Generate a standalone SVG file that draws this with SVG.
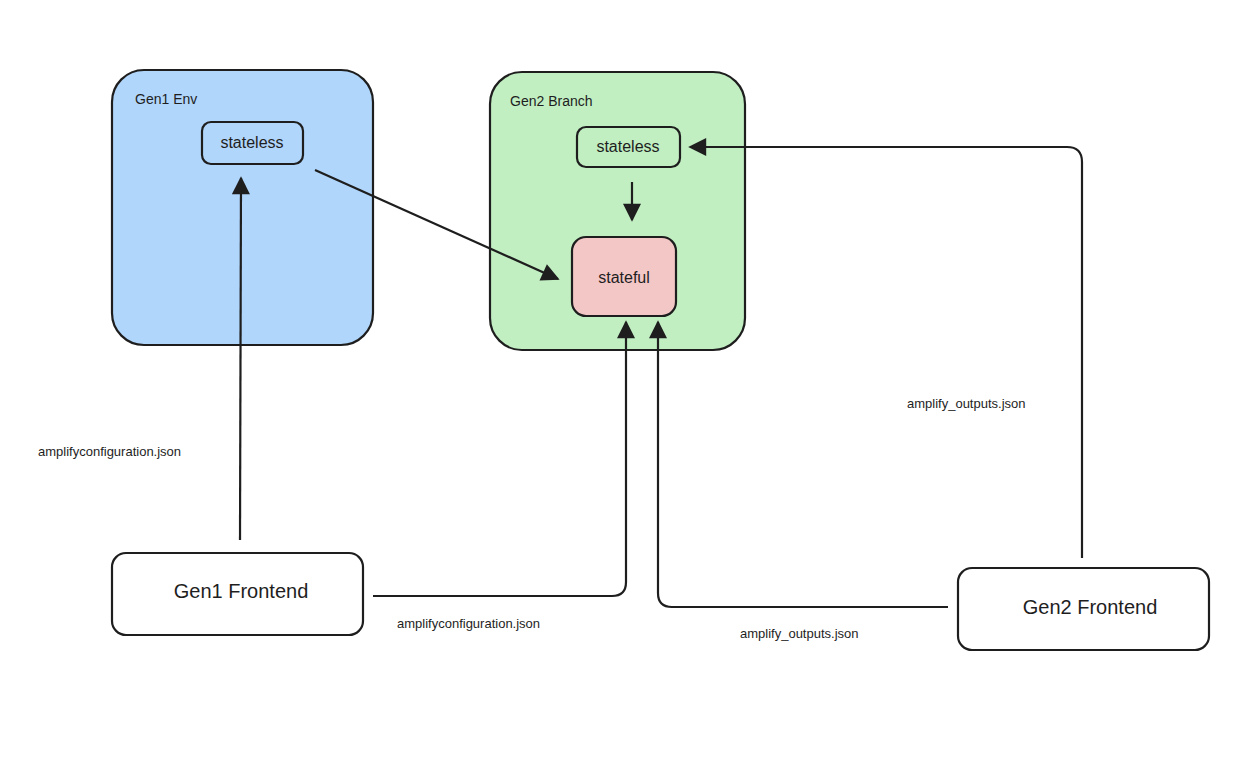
<svg xmlns="http://www.w3.org/2000/svg" width="1260" height="768" viewBox="0 0 1260 768">
<defs>
<style>
.box{stroke:#1e1e1e;stroke-width:2.2}
.t{font-family:"Liberation Sans",Arial,sans-serif;fill:#1e1e1e}
.c{fill:none;stroke:#1e1e1e;stroke-width:2.2}
</style>
<marker id="a" viewBox="0 0 10 10" refX="9" refY="5" markerWidth="20" markerHeight="18" orient="auto-start-reverse" markerUnits="userSpaceOnUse">
<path d="M0,0 L10,5 L0,10 z" fill="#1e1e1e"/>
</marker>
</defs>
<rect width="1260" height="768" fill="#fff"/>
<g id="gen1env">
<rect class="box" x="112" y="70" width="261" height="275" rx="32" fill="#b1d6fb"/>
<text class="t" x="135" y="104" font-size="14">Gen1 Env</text>
</g>
<g id="gen2branch">
<rect class="box" x="490" y="72" width="255" height="278" rx="32" fill="#c1efc2"/>
<text class="t" x="510" y="106" font-size="14">Gen2 Branch</text>
</g>
<g id="stateless1">
<rect class="box" x="202" y="122" width="101" height="42" rx="9" fill="#b1d6fb"/>
<text class="t" x="252" y="148" font-size="16" text-anchor="middle">stateless</text>
</g>
<g id="stateless2">
<rect class="box" x="577" y="127" width="103" height="40" rx="9" fill="#c1efc2"/>
<text class="t" x="628" y="152" font-size="16" text-anchor="middle">stateless</text>
</g>
<g id="stateful">
<rect class="box" x="572" y="237" width="104" height="79" rx="14" fill="#f4c7c7"/>
<text class="t" x="624" y="283" font-size="16" text-anchor="middle">stateful</text>
</g>
<g id="gen1fe">
<rect class="box" x="112" y="553" width="251" height="82" rx="14" fill="#fff"/>
<text class="t" x="241" y="598" font-size="20" text-anchor="middle">Gen1 Frontend</text>
</g>
<g id="gen2fe">
<rect class="box" x="958" y="568" width="251" height="82" rx="14" fill="#fff"/>
<text class="t" x="1090" y="614" font-size="20" text-anchor="middle">Gen2 Frontend</text>
</g>
<g id="connectors">
<path class="c" d="M240,540 L241,178" marker-end="url(#a)"/>
<path class="c" d="M315,170 L558,279" marker-end="url(#a)"/>
<path class="c" d="M632,182 L632,220" marker-end="url(#a)"/>
<path class="c" d="M373,596 L612,596 Q626,596 626,582 L626,322" marker-end="url(#a)"/>
<path class="c" d="M948,607 L672,607 Q658,607 658,593 L658,322" marker-end="url(#a)"/>
<path class="c" d="M1082,558 L1082,162 Q1082,147 1067,147 L690,147" marker-end="url(#a)"/>
</g>
<g class="t" font-size="13">
<text x="38" y="456">amplifyconfiguration.json</text>
<text x="397" y="628">amplifyconfiguration.json</text>
<text x="740" y="638">amplify_outputs.json</text>
<text x="907" y="408">amplify_outputs.json</text>
</g>
</svg>
